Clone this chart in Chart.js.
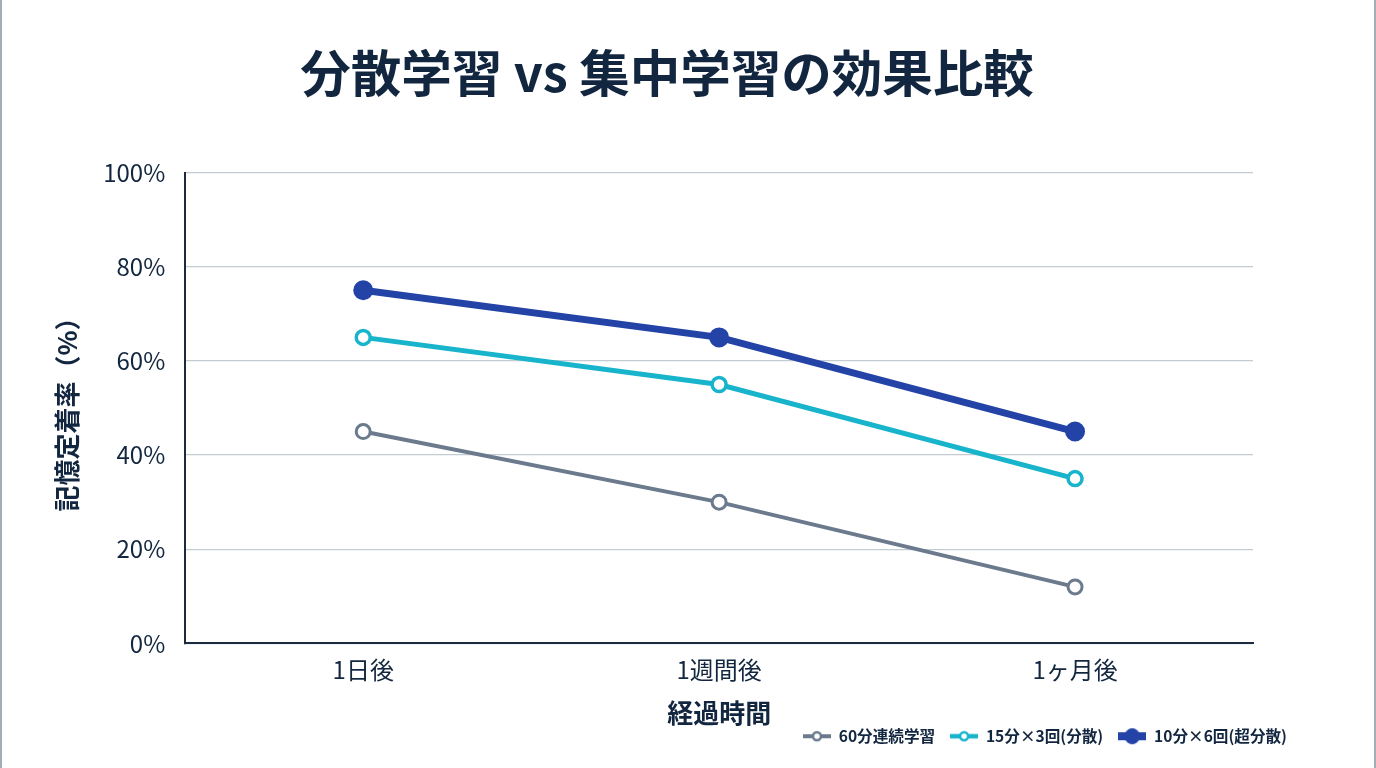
<!DOCTYPE html>
<html lang="ja">
<head>
<meta charset="utf-8">
<script src="https://cdn.jsdelivr.net/npm/chart.js@4.4.1/dist/chart.umd.min.js"></script>
<style>
  html, body { margin: 0; padding: 0; background: #ffffff; }
  body { width: 1376px; height: 768px; overflow: hidden; }
  #wrap { box-sizing: border-box; width: 1376px; height: 768px; border-left: 2px solid #a3aebb; border-right: 2px solid #a3aebb; }
  canvas { display: block; }
</style>
</head>
<body>
<div id="wrap"><canvas id="c" width="1372" height="768"></canvas></div>
<script>
const titleText = '分散学習 vs 集中学習の効果比較';
const categories = ['1日後', '1週間後', '1ヶ月後'];
const seriesNames = ['60分連続学習', '15分×3回(分散)', '10分×6回(超分散)'];
const massed = [45, 30, 12];
const spaced = [65, 55, 35];
const superSpaced = [75, 65, 45];
const yTicks = [0, 20, 40, 60, 80, 100];
const xTitle = '経過時間';
const yTitle = '記憶定着率（%）';

const FONT = '"Noto Sans CJK JP", "Noto Sans", sans-serif';
const TEXT = '#12263f';
const colors = ['#6b7a8c', '#18b4cc', '#2343a7'];

function legendIcon(color, lineW, r, filled, bw) {
  const cv = document.createElement('canvas');
  const w = 28, h = 18;
  cv.width = w; cv.height = h;
  const g = cv.getContext('2d');
  g.strokeStyle = color;
  g.lineWidth = lineW;
  g.beginPath(); g.moveTo(0, h / 2); g.lineTo(w, h / 2); g.stroke();
  g.beginPath(); g.arc(w / 2, h / 2, r, 0, Math.PI * 2);
  g.fillStyle = filled ? color : '#ffffff';
  g.fill();
  g.lineWidth = bw; g.strokeStyle = color; g.stroke();
  return cv;
}
const icons = [
  legendIcon(colors[0], 4, 4, false, 2.5),
  legendIcon(colors[1], 4.5, 4, false, 2.5),
  legendIcon(colors[2], 8, 7.5, true, 1)
];

new Chart(document.getElementById('c'), {
  type: 'line',
  data: {
    labels: categories,
    datasets: [
      { label: seriesNames[0], data: massed, borderColor: colors[0], backgroundColor: '#ffffff',
        borderWidth: 4, pointRadius: 7, pointHoverRadius: 7, pointBorderWidth: 3, pointBackgroundColor: '#ffffff', pointBorderColor: colors[0] },
      { label: seriesNames[1], data: spaced, borderColor: colors[1], backgroundColor: '#ffffff',
        borderWidth: 5, pointRadius: 7, pointHoverRadius: 7, pointBorderWidth: 3.5, pointBackgroundColor: '#ffffff', pointBorderColor: colors[1] },
      { label: seriesNames[2], data: superSpaced, borderColor: colors[2], backgroundColor: colors[2],
        borderWidth: 7, pointRadius: 9, pointHoverRadius: 9, pointBorderWidth: 2, pointBackgroundColor: colors[2], pointBorderColor: colors[2] }
    ]
  },
  options: {
    responsive: false,
    animation: false,
    layout: { padding: { left: 30, right: 72, top: 0, bottom: 14 } },
    plugins: {
      title: {
        display: true, text: titleText, color: TEXT,
        font: { family: FONT, size: 50.5, weight: 'bold' },
        padding: { top: 43, bottom: 69 }
      },
      legend: {
        position: 'bottom', align: 'end',
        labels: {
          usePointStyle: true, pointStyleWidth: 28, padding: 15, color: TEXT,
          font: { family: FONT, size: 15.6, weight: 'bold' },
          generateLabels: (chart) => chart.data.datasets.map((d, i) => ({
            text: d.label, pointStyle: icons[i], fillStyle: colors[i], strokeStyle: colors[i],
            lineWidth: 0, hidden: false, datasetIndex: i, fontColor: TEXT
          }))
        }
      },
      tooltip: { enabled: false }
    },
    scales: {
      x: {
        offset: true,
        grid: { display: false, drawTicks: false },
        border: { display: true, color: '#1b2a3e', width: 2 },
        ticks: { color: TEXT, font: { family: FONT, size: 24 }, padding: 12 },
        title: { display: true, text: xTitle, color: TEXT, font: { family: FONT, size: 26, weight: 'bold' }, padding: { top: 1, bottom: -15 } }
      },
      y: {
        min: 0, max: 100,
        afterBuildTicks: (s) => { s.ticks = yTicks.map(v => ({ value: v })); },
        grid: { color: '#c3cbd3', lineWidth: 1.3, drawTicks: false },
        border: { display: true, color: '#1b2a3e', width: 2 },
        ticks: { color: TEXT, font: { family: FONT, size: 24 }, padding: 20, callback: (v) => v + '%' },
        title: { display: true, text: yTitle, color: TEXT, font: { family: FONT, size: 26, weight: 'bold' }, padding: { top: 20, bottom: 0 } }
      },
      y2: {
        position: 'right', display: true,
        grid: { display: false, drawTicks: false },
        border: { display: false },
        ticks: { display: false },
        afterFit: (s) => { s.width = 49; }
      }
    }
  }
});
</script>
</body>
</html>
